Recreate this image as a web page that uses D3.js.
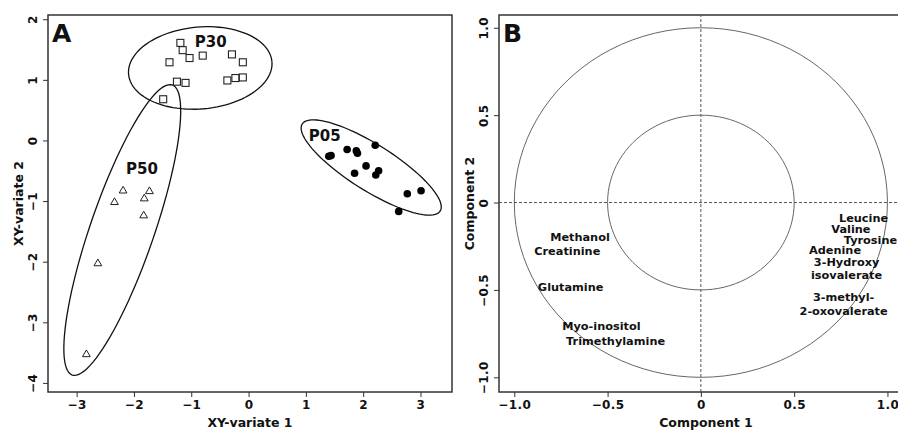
<!DOCTYPE html>
<html>
<head>
<meta charset="utf-8">
<script src="https://cdn.jsdelivr.net/npm/d3@7"></script>
<style>
  body { margin: 0; background: #fff; }
  text { font-family: "DejaVu Sans", Verdana, sans-serif; font-weight: bold; fill: #111; }
</style>
</head>
<body>
<svg class="chart"></svg>
<script>
// panel A scores, one pair of arrays per group
const p30X = [-1.19, -1.15, -1.03, -1.38, -0.80, -0.29, -0.10, -1.25, -1.10, -0.37, -0.23, -0.10, -1.49]
const p30Y = [1.61, 1.49, 1.36, 1.29, 1.40, 1.42, 1.29, 0.97, 0.95, 0.99, 1.03, 1.04, 0.68]
const p05X = [1.40, 1.44, 1.72, 1.88, 1.90, 2.21, 2.05, 1.85, 2.27, 2.22, 2.77, 3.01, 2.62]
const p05Y = [-0.26, -0.25, -0.15, -0.17, -0.21, -0.08, -0.42, -0.54, -0.50, -0.57, -0.88, -0.83, -1.17]
const p50X = [-2.19, -2.34, -1.73, -1.82, -1.83, -2.63, -2.83]
const p50Y = [-0.83, -1.02, -0.84, -0.96, -1.24, -2.03, -3.53]

// group ellipses: centre and two semi-axis vectors (data units)
const groupNames = ["P05", "P30", "P50"]
const ellipseCentre = [[2.14, -0.446], [-0.843, 1.196], [-2.204, -1.477]]
const ellipseAxis1 = [[1.204, -0.718], [1.251, 0.104], [0.873, 2.393]]
const ellipseAxis2 = [[-0.214, -0.321], [0.063, -0.673], [0.527, -0.172]]
const groupLabelX = [1.33, -0.66, -1.86]
const groupLabelY = [-0.01, 1.54, -0.56]

// panel B loadings labels
const metabolites = ["Leucine", "Valine", "Tyrosine", "Adenine", "3-Hydroxy\nisovalerate", "3-methyl-\n2-oxovalerate",
  "Methanol", "Creatinine", "Glutamine", "Myo-inositol", "Trimethylamine"]
const loadX = [0.872, 0.804, 0.909, 0.719, 0.781, 0.765, -0.648, -0.716, -0.698, -0.533, -0.457]
const loadY = [-0.086, -0.154, -0.216, -0.273, -0.378, -0.580, -0.200, -0.279, -0.483, -0.706, -0.793]
const circleRadii = [0.5, 1]

const ticksAX = [-3, -2, -1, 0, 1, 2, 3]
const ticksAY = [-4, -3, -2, -1, 0, 1, 2]
const ticksB = [-1, -0.5, 0, 0.5, 1]

const width = 898, height = 431
let svg = d3.select(".chart").attr("width", width).attr("height", height)

// scales
let xA = d3.scaleLinear().domain([-3.5, 3.55]).range([48, 452])
let yA = d3.scaleLinear().domain([-4.15, 2.07]).range([392, 15])
let xB = d3.scaleLinear().domain([-1.082, 1.137]).range([499, 913])
let yB = d3.scaleLinear().domain([-1.084, 1.073]).range([392, 15])

let fmtB = d => d === 0 ? "0" : d3.format(".1f")(d)

function drawAxes(x, y, xt, yt, fmt, xTitle, yTitle, letter) {
  let x0 = x.range()[0], x1 = x.range()[1], y0 = y.range()[0], y1 = y.range()[1]
  let gx = svg.append("g").attr("transform", "translate(0," + y0 + ")")
    .call(d3.axisBottom(x).tickValues(xt).tickSize(5).tickPadding(3).tickFormat(fmt))
  let gy = svg.append("g").attr("transform", "translate(" + x0 + ",0)")
    .call(d3.axisLeft(y).tickValues(yt).tickSize(5).tickFormat(fmt))
  ;[gx, gy].forEach(g => {
    g.select(".domain").remove()
    g.selectAll("line").attr("stroke", "#333")
    g.selectAll("text").style("font-size", "12px").style("letter-spacing", "0.4px")
      .style("font-family", "DejaVu Sans").style("font-weight", "bold").attr("fill", "#111")
  })
  gy.selectAll("text")//y tick labels run along the axis
    .attr("transform", "rotate(-90)").attr("x", 0).attr("y", -11).attr("dy", 0)
    .attr("text-anchor", "middle")

  svg.append("rect")//plot box
    .attr("x", x0).attr("y", y1).attr("width", x1 - x0).attr("height", y0 - y1)
    .attr("fill", "none").attr("stroke", "#333").attr("stroke-width", 1.5)

  svg.append("text").attr("x", (x0 + x1) / 2).attr("y", 427)
    .attr("text-anchor", "middle").style("font-size", "12.5px").text(xTitle)
  svg.append("text").attr("transform", "rotate(-90)")
    .attr("x", -(y0 + y1) / 2).attr("y", x0 - 25)
    .attr("text-anchor", "middle").style("font-size", "12.5px").text(yTitle)
  svg.append("text").attr("x", x0 + 4).attr("y", y1 + 27)
    .style("font-size", "25px").attr("fill", "#000").text(letter)
}

drawAxes(xA, yA, ticksAX, ticksAY, d3.format("d"), "XY-variate 1", "XY-variate 2", "A")
drawAxes(xB, yB, ticksB, ticksB, fmtB, "Component 1", "Component 2", "B")

// ---- panel A ----
let line = d3.line()
let ts = d3.range(0, 101).map(i => i / 100 * 2 * Math.PI)
groupNames.forEach((g, i) => {
  let c = ellipseCentre[i], a = ellipseAxis1[i], b = ellipseAxis2[i]
  let pts = ts.map(t => [xA(c[0] + Math.cos(t) * a[0] + Math.sin(t) * b[0]),
                         yA(c[1] + Math.cos(t) * a[1] + Math.sin(t) * b[1])])
  svg.append("path").attr("d", line(pts)).attr("fill", "none")
    .attr("stroke", "#111").attr("stroke-width", 1.3)
  svg.append("text").attr("x", xA(groupLabelX[i])).attr("y", yA(groupLabelY[i]))
    .attr("text-anchor", "middle").style("font-size", "15px").text(g)
})

svg.append("g").selectAll("rect")//P30 squares
  .data(d3.zip(p30X, p30Y)).enter().append("rect")
  .attr("x", d => xA(d[0]) - 3.5).attr("y", d => yA(d[1]) - 3.5)
  .attr("width", 7).attr("height", 7)
  .attr("fill", "#fff").attr("stroke", "#222").attr("stroke-width", 1.1)

svg.append("g").selectAll("circle")//P05 filled dots
  .data(d3.zip(p05X, p05Y)).enter().append("circle")
  .attr("cx", d => xA(d[0])).attr("cy", d => yA(d[1])).attr("r", 3.8)
  .attr("fill", "#000")

svg.append("g").selectAll("path")//P50 triangles
  .data(d3.zip(p50X, p50Y)).enter().append("path")
  .attr("d", d3.symbol().type(d3.symbolTriangle).size(26))
  .attr("transform", d => "translate(" + xA(d[0]) + "," + yA(d[1]) + ")")
  .attr("fill", "#fff").attr("stroke", "#222").attr("stroke-width", 1)

// ---- panel B ----
svg.append("line")//dashed zero lines
  .attr("x1", xB(0)).attr("x2", xB(0)).attr("y1", yB.range()[0]).attr("y2", yB.range()[1])
  .attr("stroke", "#555").attr("stroke-dasharray", "3,2")
svg.append("line")
  .attr("x1", xB.range()[0]).attr("x2", xB.range()[1]).attr("y1", yB(0)).attr("y2", yB(0))
  .attr("stroke", "#555").attr("stroke-dasharray", "3,2")

circleRadii.forEach(r => {
  let pts = ts.map(t => [xB(r * Math.cos(t)), yB(r * Math.sin(t))])
  svg.append("path").attr("d", line(pts)).attr("fill", "none")
    .attr("stroke", "#555").attr("stroke-width", 0.9)
})

metabolites.forEach((m, i) => {
  let lines = m.split("\n")
  let t = svg.append("text").attr("text-anchor", "middle").style("font-size", "11.3px")
  lines.forEach((l, j) => {
    t.append("tspan").attr("x", xB(loadX[i]))
      .attr("y", yB(loadY[i]) + 4 + (j - (lines.length - 1) / 2) * 13.5)
      .text(l)
  })
})
</script>
</body>
</html>
